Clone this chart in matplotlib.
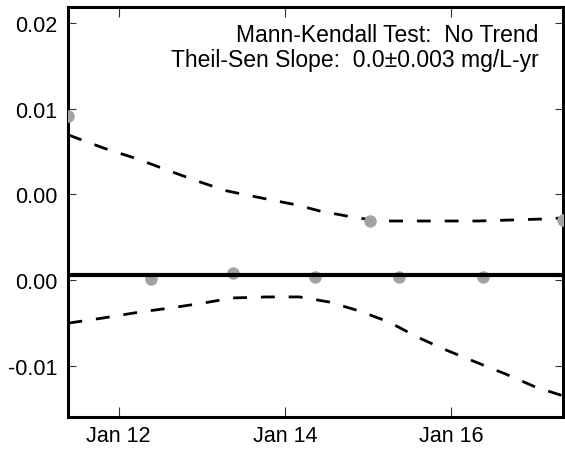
import numpy as np
import pandas as pd
import matplotlib
matplotlib.use("Agg")
import matplotlib.pyplot as plt
import matplotlib.dates as mdates

plt.rcParams['font.family'] = ['Liberation Sans', 'DejaVu Sans']

# sample dates and concentrations
dates = pd.to_datetime(["2015-01-11 09:30", "2015-01-12 09:15", "2015-01-13 09:00",
                        "2015-01-14 08:30", "2015-01-15 00:35", "2015-01-15 09:00",
                        "2015-01-16 09:00", "2015-01-17 08:20"])
values = [0.00959, 0.00006, 0.00041, 0.00018, 0.00345, 0.00018, 0.00018, 0.00351]

# Theil-Sen line (slope ~0)
trend_dates = [dates[0], dates[-1]]
trend_values = [0.00032, 0.00032]

# confidence band, days from Jan 12
base = pd.Timestamp("2015-01-12")
upper_days = [-0.605, -0.186, 0.222, 0.581, 0.940, 1.299, 1.659, 2.138, 2.413,
              2.808, 3.132, 3.527, 3.934, 4.329, 4.725, 5.132, 5.347]
upper_vals = [0.00848, 0.00772, 0.00708, 0.00643, 0.00579, 0.00521, 0.00485, 0.00439,
              0.00404, 0.00368, 0.00345, 0.00345, 0.00345, 0.00345, 0.00351, 0.00357, 0.00363]
lower_days = [-0.605, -0.186, 0.257, 0.617, 1.012, 1.371, 1.778, 2.174, 2.533,
              2.892, 3.251, 3.587, 3.934, 4.293, 4.653, 5.012, 5.347]
lower_vals = [-0.00252, -0.00222, -0.00187, -0.00164, -0.00135, -0.00105, -0.00099, -0.00099,
              -0.00129, -0.00181, -0.00246, -0.00333, -0.00409, -0.00480, -0.00550, -0.00626, -0.00678]
upper_dates = base + pd.to_timedelta(upper_days, unit='D')
lower_dates = base + pd.to_timedelta(lower_days, unit='D')

xtick_dates = pd.to_datetime(["2015-01-12", "2015-01-14", "2015-01-16"])
yticks = [0.015, 0.010, 0.005, 0.000, -0.005]
ytick_labels = ['0.02', '0.01', '0.00', '0.00', '-0.01']

fig = plt.figure(figsize=(5.65, 4.52), dpi=100)
ax = fig.add_axes([0.1212, 0.0752, 0.8761, 0.9071])

ax.plot(upper_dates, upper_vals, color='black', lw=2, dashes=(5, 5), zorder=2)
ax.plot(lower_dates, lower_vals, color='black', lw=2, dashes=(5, 5), zorder=2)
ax.plot(dates, values, 'o', color='#a3a3a3', markersize=9, markeredgewidth=0, zorder=3)
ax.plot(trend_dates, trend_values, color='black', lw=3, zorder=4)

ax.set_xlim(dates[0], dates[-1])
ax.set_ylim(-0.00801, 0.01596)
ax.set_xticks(xtick_dates)
ax.xaxis.set_major_formatter(mdates.DateFormatter('%b %d'))
ax.set_yticks(yticks)
ax.set_yticklabels(ytick_labels)

for s in ax.spines.values():
    s.set_linewidth(2.2)
ax.tick_params(axis='both', direction='in', labelsize=15.5, width=0.8, color='#333333',
               top=True, right=True)
ax.tick_params(axis='x', length=7, pad=5.5)
ax.tick_params(axis='y', length=6, pad=8)

ax.text(0.95, 0.96, "Mann-Kendall Test:  No Trend\nTheil-Sen Slope:  0.0\u00b10.003 mg/L-yr",
        transform=ax.transAxes, ha='right', va='top', fontsize=16.5, linespacing=1.1)

plt.savefig("out.png", dpi=100)
